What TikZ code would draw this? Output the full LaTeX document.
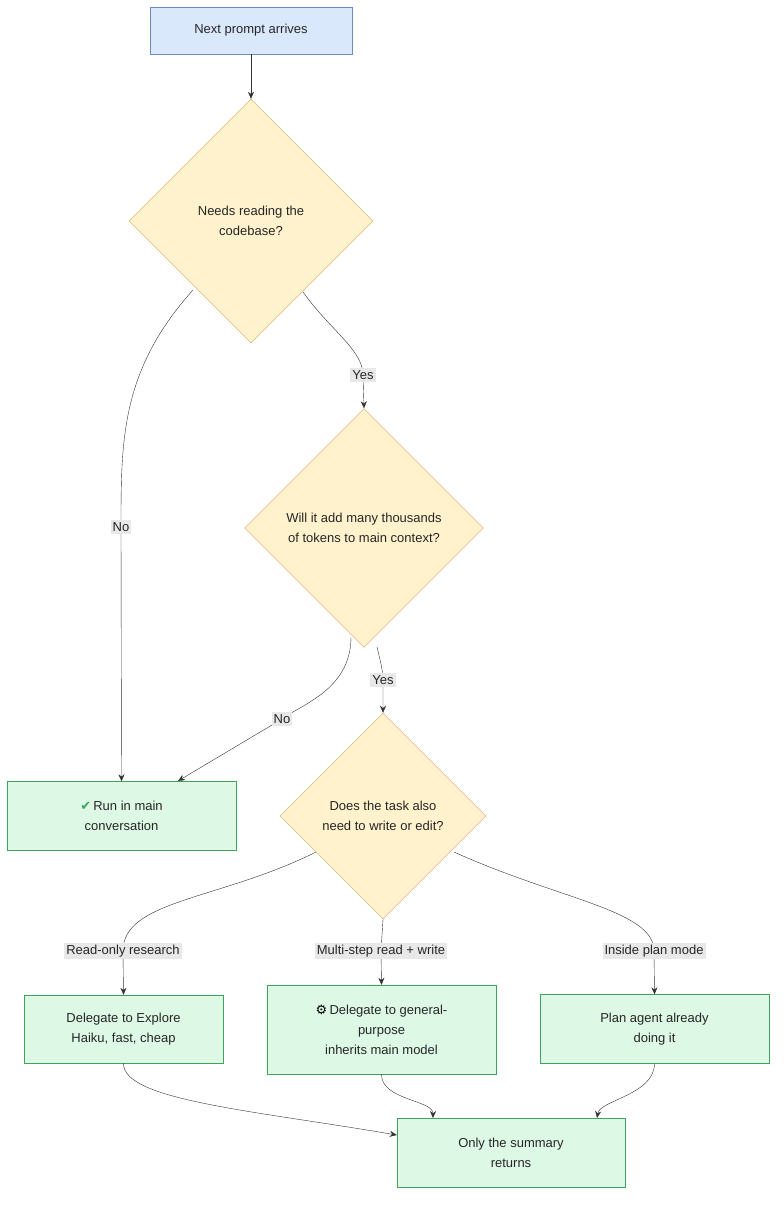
\documentclass[tikz,border=0pt]{standalone}
\usepackage{fontspec}
\setmainfont{Liberation Sans}
\newfontfamily\symfont{DejaVu Sans}
\usetikzlibrary{shapes.geometric,arrows.meta,positioning}
\definecolor{startfill}{HTML}{DAE8FC}
\definecolor{startline}{HTML}{6C8EBF}
\definecolor{askfill}{HTML}{FFF2CC}
\definecolor{askline}{HTML}{D6A65A}
\definecolor{endfill}{HTML}{DDF8E5}
\definecolor{endline}{HTML}{3DA35D}
\definecolor{lblfill}{HTML}{E8E8E8}
\definecolor{wire}{HTML}{333333}
\newcommand{\icon}[2][black]{{\symfont\color{#1}#2}\,}
\tikzset{
  base/.style={font=\fontsize{13}{20}\selectfont, text=black!85, align=center},
  start/.style={base, rectangle, draw=startline, fill=startfill, minimum width=202pt, minimum height=47pt},
  ask/.style={base, diamond, aspect=1, draw=askline, fill=askfill, inner sep=0pt},
  leaf/.style={base, rectangle, draw=endline, fill=endfill, minimum width=229pt, minimum height=69pt},
  lbl/.style={base, fill=lblfill, inner sep=2pt},
  link/.style={draw=wire, -{Stealth[length=7pt,width=6pt]}}
}
\begin{document}
\begin{tikzpicture}[x=1pt,y=-1pt]
\useasboundingbox[fill=white] (0,0) rectangle (784,1207);

\node[start] (prompt) at (251,30.5) {Next prompt arrives};
\node[ask, minimum size=244pt] (reads) at (251,221) {Needs reading the\\codebase?};
\node[ask, minimum size=239pt] (heavy) at (364,528) {Will it add many thousands\\of tokens to main context?};
\node[ask, minimum size=206pt] (edits) at (383,816) {Does the task also\\need to write or edit?};

\node[leaf] (main) at (121.5,816) {\icon[endline]{✔}Run in main\\conversation};
\node[leaf, minimum width=199pt, minimum height=68pt] (explore) at (123.5,1029) {Delegate to Explore\\Haiku, fast, cheap};
\node[leaf, minimum height=89pt] (general) at (381.5,1029.5) {\icon{⚙}Delegate to general-\\purpose\\inherits main model};
\node[leaf] (plan) at (654.5,1029) {Plan agent already\\doing it};
\node[leaf, minimum width=228pt] (summary) at (511,1152.5) {Only the summary\\returns};

% waypoints for the labels
\coordinate (pNoA) at (121,527);
\coordinate (pYesA) at (363,375);
\coordinate (pNoB) at (282,719);
\coordinate (pYesB) at (383,680);
\coordinate (pRead) at (123,951);
\coordinate (pMulti) at (381,951);
\coordinate (pPlan) at (654,951);

\draw[link] (prompt) -- (reads);
\draw[link] (193,290) .. controls (121,370) and (121,440) .. (pNoA) -- (main.north);
\draw[link] (303,292) .. controls (330,330) and (363,350) .. (pYesA) -- (heavy.north);
\draw[link] (351,637) .. controls (351,690) and (300,705) .. (pNoB) -- (178,781);
\draw[link] (377,647) .. controls (380,660) and (383,670) .. (pYesB) -- (edits.north);
\draw[link] (316,852) .. controls (220,900) and (123,900) .. (pRead) -- (explore.north);
\draw[link] (edits.south) -- (pMulti) -- (general.north);
\draw[link] (454,852) .. controls (560,900) and (654,910) .. (pPlan) -- (plan.north);
\draw[link] (explore.south) .. controls (123,1100) and (250,1110) .. (summary.west |- 0,1135);
\draw[link] (general.south) .. controls (381,1100) and (433,1100) .. (433,1118);
\draw[link] (plan.south) .. controls (654,1095) and (600,1100) .. (597,1118);

\node[lbl] (lNoA) at (pNoA) {No};
\node[lbl] (lYesA) at (pYesA) {Yes};
\node[lbl] (lNoB) at (pNoB) {No};
\node[lbl] (lYesB) at (pYesB) {Yes};
\node[lbl] (lRead) at (pRead) {Read-only research};
\node[lbl] (lMulti) at (pMulti) {Multi-step read + write};
\node[lbl] (lPlan) at (pPlan) {Inside plan mode};
\end{tikzpicture}
\end{document}
